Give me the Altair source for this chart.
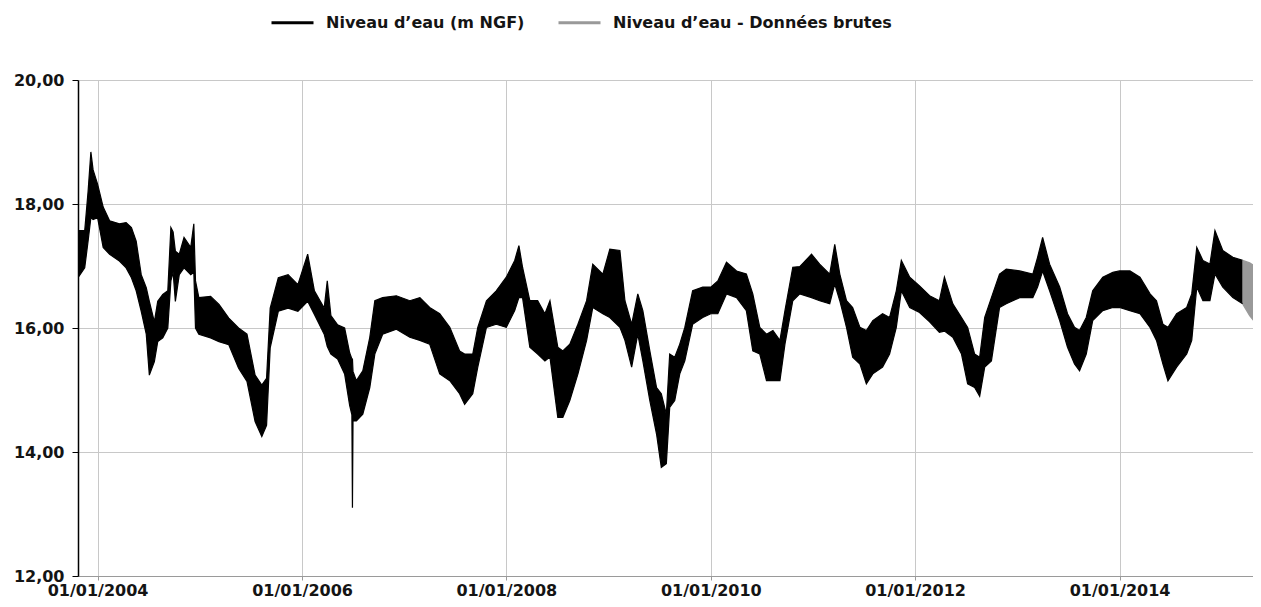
import altair as alt
import pandas as pd

SERIE_NGF = "Niveau d’eau (m NGF)"
SERIE_BRUT = "Niveau d’eau - Données brutes"

# Validated series: upper / lower envelope of the daily band (m NGF)
dates = [
    "2003-10-23", "2003-11-16", "2003-11-28", "2003-12-08", "2003-12-16", "2004-01-01",
    "2004-01-21", "2004-02-13", "2004-03-19", "2004-04-12", "2004-05-01", "2004-05-18",
    "2004-06-05", "2004-06-23", "2004-07-04", "2004-07-22", "2004-08-03", "2004-08-21",
    "2004-09-08", "2004-09-19", "2004-09-27", "2004-10-05", "2004-10-19", "2004-11-05",
    "2004-11-29", "2004-12-10", "2004-12-16", "2004-12-28", "2005-02-08", "2005-03-10",
    "2005-04-14", "2005-05-19", "2005-06-18", "2005-07-17", "2005-08-10", "2005-08-27",
    "2005-09-09", "2005-10-08", "2005-11-12", "2005-12-17", "2006-01-21", "2006-02-14",
    "2006-03-21", "2006-04-01", "2006-04-14", "2006-05-08", "2006-06-02", "2006-06-20",
    "2006-06-28", "2006-06-30", "2006-07-02", "2006-07-14", "2006-08-06", "2006-08-31",
    "2006-09-18", "2006-10-16", "2006-12-04", "2007-01-21", "2007-02-26", "2007-04-02",
    "2007-05-08", "2007-06-13", "2007-07-18", "2007-08-05", "2007-09-03", "2007-09-21",
    "2007-10-22", "2007-11-26", "2008-01-01", "2008-01-31", "2008-02-15", "2008-02-28",
    "2008-03-25", "2008-04-22", "2008-05-18", "2008-06-05", "2008-07-03", "2008-07-21",
    "2008-08-15", "2008-09-13", "2008-10-14", "2008-11-05", "2008-12-11", "2009-01-05",
    "2009-02-10", "2009-02-28", "2009-03-24", "2009-04-15", "2009-05-03", "2009-05-28",
    "2009-06-21", "2009-07-08", "2009-07-26", "2009-08-07", "2009-08-25", "2009-09-12",
    "2009-09-30", "2009-10-28", "2009-12-03", "2010-01-01", "2010-01-26", "2010-02-26",
    "2010-04-03", "2010-05-08", "2010-05-31", "2010-06-25", "2010-07-19", "2010-08-11",
    "2010-09-05", "2010-09-23", "2010-10-21", "2010-11-15", "2010-12-27", "2011-01-25",
    "2011-03-02", "2011-03-20", "2011-04-07", "2011-05-01", "2011-05-23", "2011-06-18",
    "2011-07-11", "2011-08-03", "2011-09-07", "2011-10-02", "2011-10-26", "2011-11-13",
    "2011-12-13", "2012-01-17", "2012-02-22", "2012-03-28", "2012-04-15", "2012-05-15",
    "2012-06-15", "2012-07-07", "2012-08-01", "2012-08-19", "2012-09-06", "2012-09-30",
    "2012-10-29", "2012-11-22", "2013-01-09", "2013-02-25", "2013-03-14", "2013-04-01",
    "2013-04-26", "2013-06-01", "2013-06-29", "2013-07-24", "2013-08-11", "2013-09-04",
    "2013-09-27", "2013-11-02", "2013-12-08", "2014-01-01", "2014-02-07", "2014-03-15",
    "2014-04-20", "2014-05-13", "2014-06-05", "2014-06-23", "2014-07-24", "2014-08-29",
    "2014-09-16", "2014-10-04", "2014-10-26", "2014-11-20", "2014-12-08", "2015-01-05",
    "2015-02-10", "2015-03-17",
]
niveau_haut = [
    17.57, 17.57, 18.20, 18.84, 18.55, 18.32,
    17.95, 17.73, 17.68, 17.70, 17.62, 17.40,
    16.86, 16.65, 16.43, 16.10, 16.43, 16.54,
    16.60, 17.62, 17.55, 17.24, 17.19, 17.46,
    17.30, 17.68, 16.76, 16.49, 16.51, 16.38,
    16.16, 16.00, 15.90, 15.24, 15.08, 15.19,
    16.32, 16.81, 16.86, 16.70, 17.19, 16.60,
    16.32, 16.76, 16.20, 16.05, 16.00, 15.60,
    15.50, 15.50, 15.30, 15.15, 15.31, 15.85,
    16.44, 16.49, 16.52, 16.44, 16.49, 16.33,
    16.23, 16.01, 15.63, 15.58, 15.58, 16.01,
    16.44, 16.60, 16.82, 17.09, 17.33, 16.98,
    16.44, 16.44, 16.23, 16.44, 15.69, 15.63,
    15.74, 16.06, 16.44, 17.03, 16.87, 17.27,
    17.25, 16.44, 16.06, 16.55, 16.28, 15.63,
    15.04, 14.94, 14.61, 15.58, 15.53, 15.74,
    16.01, 16.60, 16.66, 16.66, 16.76, 17.06,
    16.92, 16.87, 16.55, 16.01, 15.90, 15.96,
    15.80, 16.28, 16.98, 16.99, 17.19, 17.03,
    16.87, 17.35, 16.87, 16.44, 16.33, 16.01,
    15.96, 16.12, 16.23, 16.17, 16.60, 17.09,
    16.82, 16.68, 16.52, 16.44, 16.82, 16.39,
    16.17, 16.01, 15.58, 15.53, 16.17, 16.49,
    16.87, 16.95, 16.92, 16.87, 17.14, 17.46,
    17.03, 16.66, 16.23, 16.01, 15.96, 16.17,
    16.60, 16.82, 16.90, 16.92, 16.92, 16.82,
    16.55, 16.44, 16.06, 16.01, 16.23, 16.33,
    16.55, 17.30, 17.09, 17.03, 17.57, 17.25,
    17.14, 17.09,
]
niveau_bas = [
    16.81, 16.97, 17.40, 17.78, 17.75, 17.78,
    17.30, 17.19, 17.08, 16.97, 16.81, 16.60,
    16.27, 15.90, 15.24, 15.46, 15.78, 15.84,
    16.00, 16.76, 16.90, 16.43, 16.86, 16.97,
    16.86, 16.90, 16.00, 15.90, 15.84, 15.78,
    15.73, 15.35, 15.14, 14.49, 14.25, 14.43,
    15.68, 16.27, 16.32, 16.27, 16.43, 16.22,
    15.90, 15.70, 15.58, 15.50, 15.26, 14.75,
    14.60, 13.10, 14.50, 14.50, 14.61, 15.04,
    15.58, 15.90, 15.98, 15.85, 15.80, 15.74,
    15.26, 15.15, 14.94, 14.77, 14.94, 15.37,
    16.01, 16.06, 16.01, 16.28, 16.49, 16.49,
    15.69, 15.58, 15.47, 15.53, 14.56, 14.56,
    14.83, 15.26, 15.80, 16.33, 16.23, 16.17,
    16.01, 15.80, 15.37, 15.90, 15.47, 14.83,
    14.29, 13.75, 13.81, 14.72, 14.83, 15.26,
    15.47, 16.06, 16.17, 16.23, 16.23, 16.55,
    16.49, 16.28, 15.63, 15.58, 15.15, 15.15,
    15.15, 15.74, 16.44, 16.55, 16.49, 16.44,
    16.39, 16.71, 16.44, 16.01, 15.53, 15.42,
    15.10, 15.26, 15.37, 15.58, 16.01, 16.60,
    16.33, 16.25, 16.10, 15.93, 15.95, 15.85,
    15.58, 15.10, 15.04, 14.90, 15.37, 15.47,
    16.33, 16.39, 16.49, 16.49, 16.66, 16.92,
    16.60, 16.12, 15.69, 15.42, 15.31, 15.58,
    16.12, 16.28, 16.33, 16.33, 16.28, 16.23,
    16.01, 15.80, 15.42, 15.15, 15.37, 15.58,
    15.80, 16.66, 16.44, 16.44, 16.87, 16.66,
    16.49, 16.39,
]

# Raw (non-validated) data at the end of the record
dates_brutes = ["2015-03-17", "2015-04-11", "2015-04-29", "2015-05-19", "2015-05-24"]
haut_brutes = [17.09, 17.05, 17.00, 16.90, 16.88]
bas_brutes = [16.39, 16.20, 16.10, 15.95, 15.93]

y_ticks = [12, 14, 16, 18, 20]
x_tick_years = [2004, 2006, 2008, 2010, 2012, 2014]

valid = pd.DataFrame({"date": dates, "haut": niveau_haut, "bas": niveau_bas, "serie": SERIE_NGF})
brut = pd.DataFrame({"date": dates_brutes, "haut": haut_brutes, "bas": bas_brutes, "serie": SERIE_BRUT})
band = pd.concat([valid, brut], ignore_index=True)
edges = band.melt(id_vars=["date", "serie"], value_vars=["haut", "bas"],
                  var_name="bord", value_name="niveau")

domain_series = [SERIE_NGF, SERIE_BRUT]
colors = ["#000000", "#999999"]

x_enc = alt.X(
    "date:T",
    title=None,
    scale=alt.Scale(type="utc", domain=[
        alt.DateTime(year=2003, month=10, date=23, utc=True),
        alt.DateTime(year=2015, month=4, date=23, utc=True),
    ]),
    axis=alt.Axis(
        values=[alt.DateTime(year=y, month=1, date=1, utc=True) for y in x_tick_years],
        labelExpr="utcFormat(datum.value, '%d/%m/%Y')",
        grid=True, gridColor="#c8c8c8",
        domainColor="#9a9a9a", tickColor="#9a9a9a", tickSize=4,
        labelPadding=2, labelFontSize=16, labelFont="DejaVu Sans",
        labelFontWeight="bold", labelColor="#141414", labelBaseline="top",
    ),
)
y_scale = alt.Scale(domain=[12, 20], nice=False, zero=False)
y_axis = alt.Axis(
    values=y_ticks, title=None, grid=True, gridColor="#c8c8c8",
    labelExpr="replace(format(datum.value, '.2f'), '.', ',')",
    domainColor="#000000", domainWidth=1.5, tickColor="#000000", tickSize=6,
    labelPadding=8, labelFontSize=16, labelFont="DejaVu Sans",
    labelFontWeight="bold", labelColor="#141414",
)

area_valid = alt.Chart(valid).mark_area(interpolate="linear", clip=True, color="#000000").encode(
    x=x_enc,
    y=alt.Y("haut:Q", scale=y_scale, axis=y_axis),
    y2="bas:Q",
)
area_brut = alt.Chart(brut).mark_area(interpolate="linear", clip=True, color="#999999").encode(
    x=x_enc,
    y=alt.Y("haut:Q", scale=y_scale, axis=y_axis),
    y2="bas:Q",
)

lines = alt.Chart(edges).mark_line(strokeWidth=1.2, clip=True).encode(
    x=x_enc,
    y=alt.Y("niveau:Q", scale=y_scale, axis=y_axis),
    detail="bord:N",
    color=alt.Color(
        "serie:N",
        scale=alt.Scale(domain=domain_series, range=colors),
        legend=alt.Legend(
            orient="none", legendX=192, legendY=-80, direction="horizontal",
            title=None, symbolType="stroke", symbolSize=1764, symbolStrokeWidth=3,
            labelFontSize=16, labelFont="DejaVu Sans", labelFontWeight="bold",
            labelColor="#141414", labelLimit=400, labelOffset=11, columnPadding=27,
        ),
    ),
)

chart = alt.layer(area_valid, area_brut, lines).properties(
    width=1175, height=496,
    autosize=alt.AutoSizeParams(type="none"),
    padding={"left": 70, "top": 72, "right": 0, "bottom": 23},
).configure_view(stroke=None).configure(background="white")

chart.save("out.html", embed_options={"renderer": "svg", "actions": False})
